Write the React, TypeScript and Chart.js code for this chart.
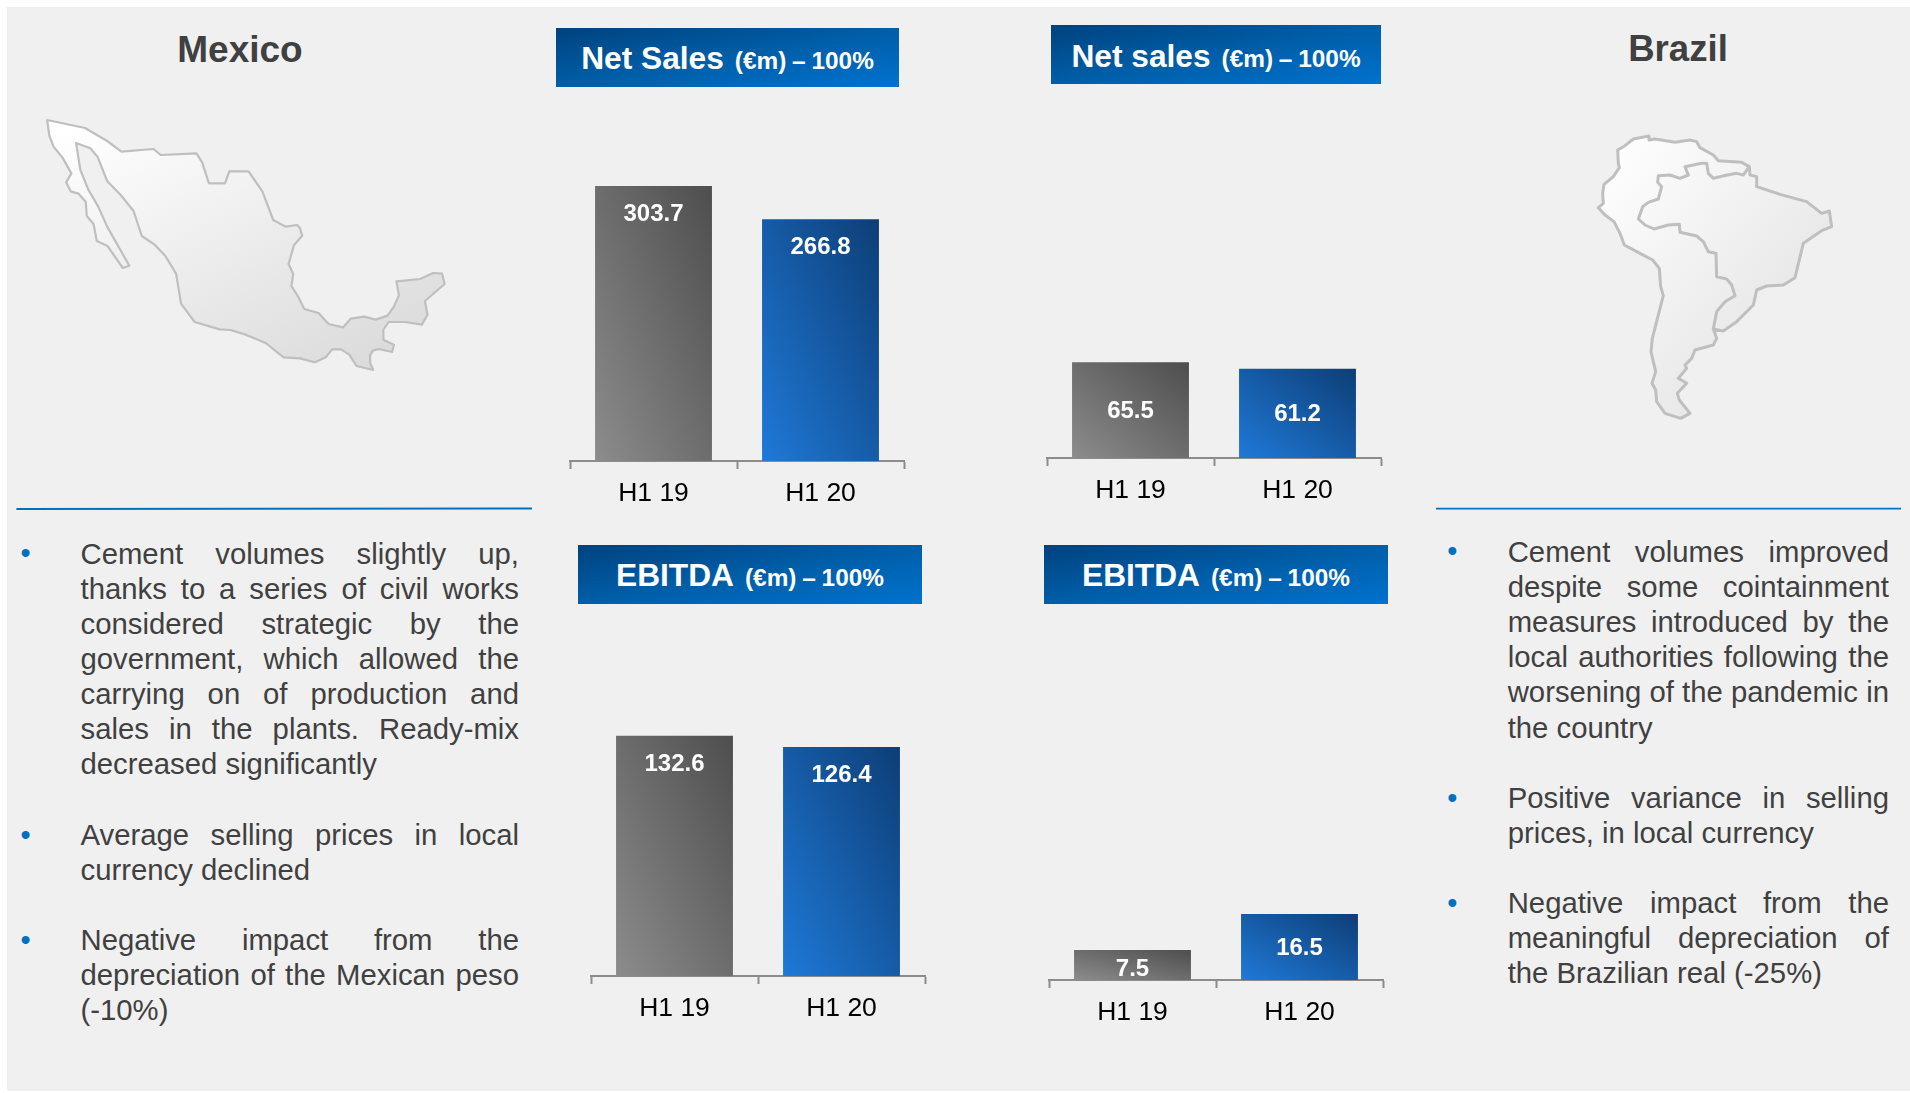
import React, { useEffect, useRef } from "react";
import { Chart, registerables } from "chart.js";

Chart.register(...registerables);

const categories = ["H1 19", "H1 20"];
const mexicoNetSales = [303.7, 266.8];
const mexicoEbitda = [132.6, 126.4];
const brazilNetSales = [65.5, 61.2];
const brazilEbitda = [7.5, 16.5];

const mexicoBullets = [
  ["Cement volumes slightly up,", "thanks to a series of civil works", "considered strategic by the", "government, which allowed the", "carrying on of production and", "sales in the plants. Ready-mix", "decreased significantly"],
  ["Average selling prices in local", "currency declined"],
  ["Negative impact from the", "depreciation of the Mexican peso", "(-10%)"],
];
const brazilBullets = [
  ["Cement volumes improved", "despite some cointainment", "measures introduced by the", "local authorities following the", "worsening of the pandemic in", "the country"],
  ["Positive variance in selling", "prices, in local currency"],
  ["Negative impact from the", "meaningful depreciation of", "the Brazilian real (-25%)"],
];

const FONT = '"Liberation Sans", Arial, sans-serif';
const GREY = ["#8c8c8c", "#4e4e4e"];
const BLUE = ["#1f79d8", "#0d3e76"];

type Panel = {
  values: number[]; yMax: number; left: number; right: number; axisY: number; plotH: number;
  labelMode: string[];
};

const panels: Panel[] = [
  { values: mexicoNetSales, yMax: 340, left: 569.5, right: 903.5, axisY: 461, plotH: 308, labelMode: ["end", "end"] },
  { values: brazilNetSales, yMax: 200, left: 1047, right: 1381, axisY: 458, plotH: 292, labelMode: ["center", "center"] },
  { values: mexicoEbitda, yMax: 170, left: 591, right: 925, axisY: 976, plotH: 308.5, labelMode: ["end", "end"] },
  { values: brazilEbitda, yMax: 70, left: 1048.5, right: 1382.5, axisY: 980, plotH: 280, labelMode: ["low", "center"] },
];

const banners = [
  { main: "Net Sales", left: 556, top: 28, width: 343, height: 59, lineH: 61 },
  { main: "Net sales", left: 1051, top: 25, width: 330, height: 59, lineH: 63 },
  { main: "EBITDA", left: 578, top: 544.5, width: 344, height: 59.5, lineH: 60 },
  { main: "EBITDA", left: 1044, top: 544.5, width: 344, height: 59.5, lineH: 60 },
];

const MEXICO = "132,360 238,384 300,423 340,455 430,447 450,465 550,460 566,487 585,550 630,550 642,514 696,514 735,575 765,660 800,680 832,675 840,685 846,707 823,736 808,792 821,822 816,858 836,892 852,927 892,939 920,972 961,982 982,956 1020,950 1052,959 1085,947 1103,920 1117,886 1110,844 1176,837 1213,819 1238,821 1245,852 1190,903 1197,945 1181,974 1135,966 1088,966 1073,990 1074,1020 1103,1034 1098,1056 1060,1047 1044,1052 1036,1066 1037,1090 1045,1110 998,1098 978,1064 955,1048 930,1048 912,1072 882,1087 840,1075 794,1072 744,1029 688,1004 645,990 615,988 545,966 507,911 493,821 463,768 433,734 397,708 374,633 338,585 300,543 273,470 253,445 213,429 225,510 247,568 275,620 300,680 362,797 344,804 301,738 271,723 262,672 243,648 240,605 220,581 198,574 185,547 200,520 175,473 150,440 138,407";
const SOUTH_AMERICA = "177,33 130,42 105,62 83,75 85,115 88,128 70,155 42,178 38,205 40,235 25,248 45,270 72,290 90,325 103,360 150,385 188,405 208,430 212,485 220,512 205,570 187,640 183,680 197,740 186,775 197,795 200,830 225,865 272,880 300,865 268,825 262,805 290,775 265,760 290,730 285,720 305,700 315,675 370,660 380,640 370,612 400,618 440,590 490,540 500,495 530,483 580,480 615,458 640,355 695,317 725,305 718,258 695,265 650,230 570,208 500,185 500,155 480,150 478,125 455,112 385,107 370,90 330,68 320,50 300,45 255,52 195,42 177,45";
const BRAZIL_BORDER = "478,125 460,150 440,145 412,150 370,160 355,145 350,115 335,115 285,125 295,150 270,160 240,150 205,152 203,172 215,185 205,222 175,232 158,245 145,282 165,300 192,312 235,300 268,298 270,322 320,333 340,350 355,380 378,385 380,455 410,462 425,480 435,512 405,530 380,560 370,612";

function barFill(c: any) {
  const { chart, dataIndex, raw } = c;
  const pair = dataIndex === 0 ? GREY : BLUE;
  const x = chart.scales?.x;
  const y = chart.scales?.y;
  if (!chart.chartArea || !x || !y || typeof raw !== "number") return pair[1];
  const w = (x.width / 2) * 0.7;
  const top = y.getPixelForValue(raw);
  const base = y.getPixelForValue(0);
  const h = base - top;
  const cx = x.getPixelForValue(dataIndex);
  const cy = (top + base) / 2;
  // iso-colour lines run corner to corner, as in a scaled diagonal fill
  const k = (w * h) / (w * w + h * h);
  const g = chart.ctx.createLinearGradient(cx - h * k, cy + w * k, cx + h * k, cy - w * k);
  g.addColorStop(0, pair[0]);
  g.addColorStop(1, pair[1]);
  return g;
}

const valueLabels = {
  id: "valueLabels",
  afterDatasetsDraw(chart: any, _args: any, opts: any) {
    const { ctx } = chart;
    const meta = chart.getDatasetMeta(0);
    ctx.save();
    ctx.fillStyle = "#ffffff";
    ctx.font = `bold 24px ${FONT}`;
    ctx.textAlign = "center";
    ctx.textBaseline = "middle";
    meta.data.forEach((bar: any, i: number) => {
      const v = chart.data.datasets[0].data[i];
      const mode = opts.modes[i];
      const base = chart.scales.y.getPixelForValue(0);
      let yPos = (bar.y + base) / 2;
      if (mode === "end") yPos = bar.y + 27;
      if (mode === "low") yPos = yPos + 3;
      ctx.fillText(v.toFixed(1), bar.x, yPos + 1.5);
    });
    ctx.restore();
  },
};

function BarPanel({ panel }: { panel: Panel }) {
  const ref = useRef<HTMLCanvasElement>(null);
  const padX = 3;
  const bottom = 52;
  useEffect(() => {
    const chart = new Chart(ref.current!, {
      type: "bar",
      data: {
        labels: categories,
        datasets: [{ data: panel.values, backgroundColor: barFill as any, borderWidth: 0, barPercentage: 0.7, categoryPercentage: 1 }],
      },
      options: {
        animation: false,
        responsive: false,
        maintainAspectRatio: false,
        layout: { padding: { left: padX, right: padX, top: 0, bottom: 0 } },
        plugins: { legend: { display: false }, tooltip: { enabled: false }, valueLabels: { modes: panel.labelMode } } as any,
        scales: {
          x: {
            afterFit: (s: any) => { s.height = bottom; },
            border: { color: "#8c8c8c", width: 2 },
            grid: { drawOnChartArea: false, drawTicks: true, tickLength: 8, tickColor: "#8c8c8c", tickWidth: 2, offset: true },
            ticks: { color: "#000000", font: { family: FONT, size: 26.5 }, padding: 9, maxRotation: 0, autoSkip: false },
          },
          y: { display: false, min: 0, max: panel.yMax },
        },
      },
      plugins: [valueLabels],
    });
    return () => chart.destroy();
  }, []);
  const w = panel.right - panel.left + padX * 2;
  return (
    <canvas
      ref={ref}
      width={w}
      height={panel.plotH + bottom}
      style={{ position: "absolute", left: panel.left - padX, top: panel.axisY - panel.plotH, width: w, height: panel.plotH + bottom }}
    />
  );
}

function Bullets({ items, tops, bulletX, bulletY, left, width }: { items: string[][]; tops: number[]; bulletX: number; bulletY: number[]; left: number; width: number }) {
  return (
    <>
      {items.map((lines, i) => (
        <React.Fragment key={i}>
          <div style={{ position: "absolute", left: bulletX - 5, top: bulletY[i] - 14.3, font: `29px/30px ${FONT}`, color: "#0070c0" }}>•</div>
          {lines.map((line, j) => (
            <div
              key={j}
              style={{
                position: "absolute", left, top: tops[i] + j * 35.1, width, height: 35.1,
                font: `29.3px/35.1px ${FONT}`, color: "#404040",
                textAlign: "justify", textAlignLast: j === lines.length - 1 ? "left" : "justify",
              }}
            >
              {line}
            </div>
          ))}
        </React.Fragment>
      ))}
    </>
  );
}

export default function App() {
  return (
    <div style={{ position: "absolute", left: 0, top: 0, width: 1910, height: 1093, background: "#ffffff", overflow: "hidden", fontFamily: FONT }}>
      <div style={{ position: "absolute", left: 7, top: 7, width: 1903, height: 1084, background: "#f0f0f0" }} />

      <svg width={1910} height={1093} style={{ position: "absolute", left: 0, top: 0 }}>
        <defs>
          <linearGradient id="mapFill" x1="0.1" y1="0" x2="0.85" y2="1">
            <stop offset="0" stopColor="#ffffff" />
            <stop offset="1" stopColor="#dadada" />
          </linearGradient>
          <linearGradient id="saFill" x1="0.05" y1="0" x2="0.95" y2="0.9">
            <stop offset="0" stopColor="#ffffff" />
            <stop offset="0.75" stopColor="#e8e8e8" />
            <stop offset="1" stopColor="#e2e2e2" />
          </linearGradient>
        </defs>
        <g transform="scale(0.35714 0.33333)">
          <polygon points={MEXICO} fill="url(#mapFill)" stroke="#bfbfbf" strokeWidth={2.2} strokeLinejoin="round" vectorEffect="non-scaling-stroke" />
        </g>
        <g transform="translate(1590 125) scale(0.33333)">
          <polygon points={SOUTH_AMERICA} fill="url(#saFill)" stroke="#bfbfbf" strokeWidth={3} strokeLinejoin="round" vectorEffect="non-scaling-stroke" />
          <polyline points={BRAZIL_BORDER} fill="none" stroke="#bfbfbf" strokeWidth={3} strokeLinejoin="round" vectorEffect="non-scaling-stroke" />
        </g>
        <line x1={16.4} y1={509} x2={532} y2={508.5} stroke="#0070c0" strokeWidth={1.8} />
        <line x1={1436} y1={508.7} x2={1901} y2={508.7} stroke="#0070c0" strokeWidth={1.8} />
      </svg>

      <div style={{ position: "absolute", left: 140, width: 200, top: 30, textAlign: "center", font: `bold 37px/40px ${FONT}`, color: "#404040" }}>Mexico</div>
      <div style={{ position: "absolute", left: 1578, width: 200, top: 29, textAlign: "center", font: `bold 36.6px/40px ${FONT}`, color: "#404040" }}>Brazil</div>

      {banners.map((b, i) => (
        <div
          key={i}
          style={{
            position: "absolute", left: b.left, top: b.top, width: b.width, height: b.height,
            background: "linear-gradient(to bottom right, #00427e 0%, #005ea8 50%, #0072ce 100%)",
            color: "#ffffff", textAlign: "center", font: `bold 31.7px/${b.lineH}px ${FONT}`, whiteSpace: "nowrap",
          }}
        >
          {b.main}
          <span style={{ fontSize: 24.4, marginLeft: 11, wordSpacing: -1 }}>(€m) – 100%</span>
        </div>
      ))}

      {panels.map((p, i) => <BarPanel key={i} panel={p} />)}

      <Bullets items={mexicoBullets} tops={[535.6, 816.9, 921.9]} bulletX={25.5} bulletY={[552, 834.5, 939.5]} left={80.5} width={438.5} />
      <Bullets items={brazilBullets} tops={[534, 780.3, 885]} bulletX={1452.3} bulletY={[550.5, 797.5, 902.5]} left={1507.7} width={381.3} />
    </div>
  );
}
